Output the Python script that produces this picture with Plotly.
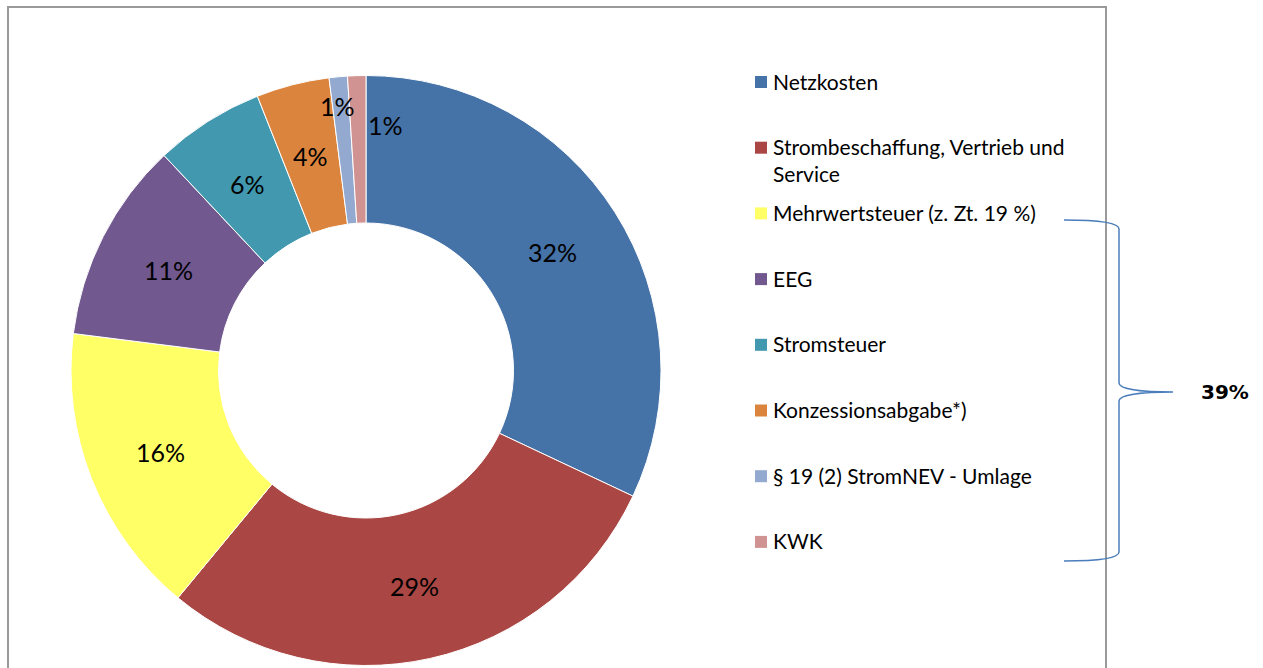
import math
import plotly.graph_objects as go

# ---- data ----
categories = [
    "Netzkosten",
    "Strombeschaffung, Vertrieb und<br>Service",
    "Mehrwertsteuer (z. Zt. 19 %)",
    "EEG",
    "Stromsteuer",
    "Konzessionsabgabe*)",
    "§ 19 (2) StromNEV - Umlage",
    "KWK",
]
shares = [32, 29, 16, 11, 6, 4, 1, 1]
bracket_label = "39%"

# ---- styles ----
colors = ["#4572A7", "#AA4643", "#FFFF66", "#71588F", "#4198AF", "#DB843D", "#93A9CF", "#D19392"]
label_offsets = [(0, 0), (0, 0), (0, 0), (0, 0), (0, 0), (0, 0), (-8, -44), (26, -24)]

W, H = 1263, 668
CX, CY, R = 366, 370.5, 295
HOLE = 0.5
FONT = "Lato"


def px(x):
    return x / W


def py(y):
    return 1 - y / H


fig = go.Figure()
fig.add_trace(go.Pie(
    labels=[c.replace("<br>", " ") for c in categories],
    values=shares,
    sort=False,
    direction="clockwise",
    rotation=0,
    hole=HOLE,
    textinfo="none",
    marker=dict(colors=colors, line=dict(color="white", width=1)),
    domain=dict(x=[px(CX - R), px(CX + R)], y=[py(CY + R), py(CY - R)]),
    showlegend=False,
))

annotations = []
shapes = []

# slice labels computed from cumulative shares
total = sum(shares)
r_mid = (R + R * HOLE) / 2
cum = 0
for v, (dx, dy) in zip(shares, label_offsets):
    mid = (cum + v / 2) / total * 2 * math.pi
    cum += v
    x = CX + r_mid * math.sin(mid) + dx
    y = CY - r_mid * math.cos(mid) + dy
    annotations.append(dict(
        x=px(x), y=py(y), xref="paper", yref="paper", text=f"{v}%",
        showarrow=False, xanchor="center", yanchor="middle",
        font=dict(family=FONT, size=25, color="black"),
    ))

# legend built from the categories
row0, row_gap, line_h = 81, 65.7, 26.5
for i, (cat, col) in enumerate(zip(categories, colors)):
    yc = row0 + row_gap * i
    n = cat.count("<br>") + 1
    annotations.append(dict(
        x=px(771), y=py(yc + (n - 1) * line_h / 2), xref="paper", yref="paper",
        text=cat, showarrow=False, xanchor="left", yanchor="middle", align="left",
        font=dict(family=FONT, size=21, color="black"),
    ))
    shapes.append(dict(
        type="rect", xref="paper", yref="paper",
        x0=px(755), x1=px(767), y0=py(yc + 7), y1=py(yc - 5),
        fillcolor=col, line=dict(width=0),
    ))

# curly brace
def P(x, y):
    return f"{px(x):.5f},{py(y):.5f}"

brace = (
    f"M {P(1064,220)} C {P(1096,220)} {P(1119,222)} {P(1119,229)} "
    f"L {P(1119,383)} C {P(1119,389)} {P(1140,392)} {P(1173,392)} "
    f"C {P(1140,392)} {P(1119,395)} {P(1119,401)} "
    f"L {P(1119,552)} C {P(1119,559)} {P(1096,561)} {P(1064,561)}"
)
shapes.append(dict(type="path", xref="paper", yref="paper", path=brace,
                   line=dict(color="#4A7EBB", width=1.5)))
annotations.append(dict(
    x=px(1224.5), y=py(392), xref="paper", yref="paper", text=f"<b>{bracket_label}</b>",
    showarrow=False, xanchor="center", yanchor="middle",
    font=dict(family="DejaVu Sans", size=20, color="black"),
))

# chart frame
shapes.append(dict(type="rect", xref="paper", yref="paper",
                   x0=px(8), x1=px(1106), y0=-0.05, y1=py(7),
                   line=dict(color="#9A9A9A", width=2), fillcolor="rgba(0,0,0,0)",
                   layer="below"))

fig.update_layout(
    width=W, height=H,
    margin=dict(l=0, r=0, t=0, b=0),
    paper_bgcolor="white", plot_bgcolor="white",
    annotations=annotations, shapes=shapes,
    showlegend=False,
)
fig.write_html("out.html", config={"displayModeBar": False},
               post_script="document.body.style.margin='0';")
